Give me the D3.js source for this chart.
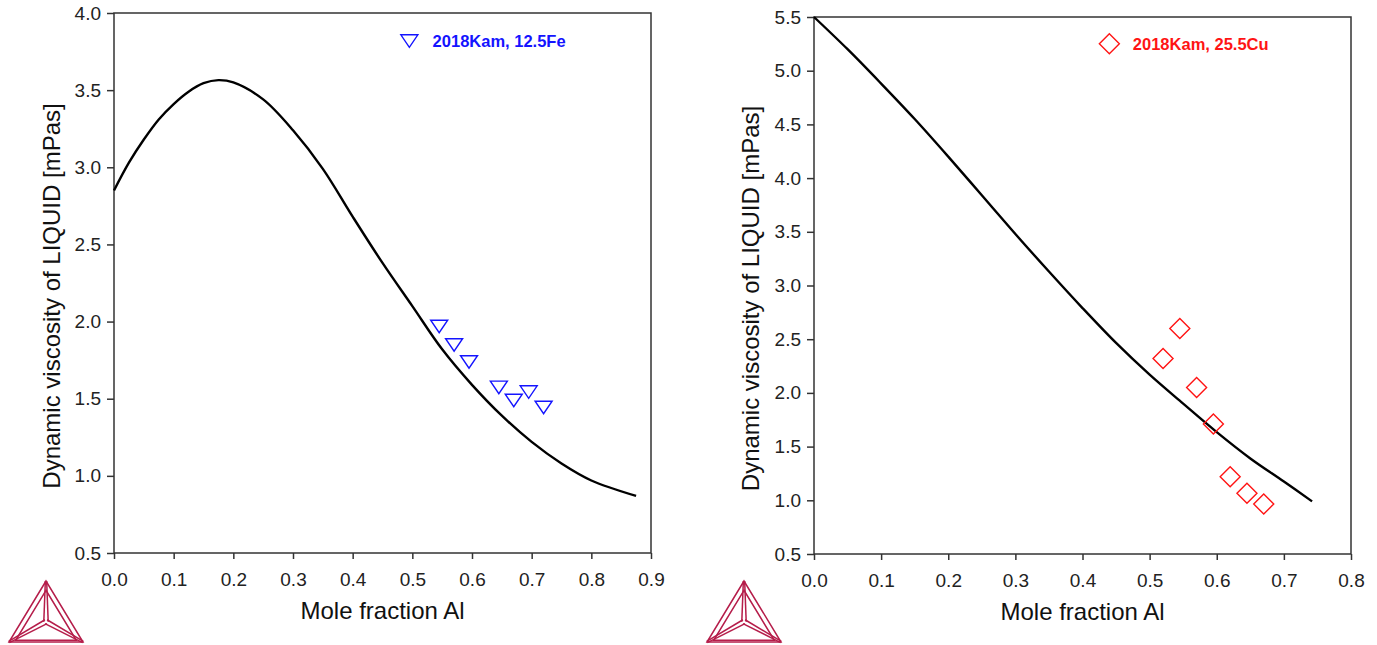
<!DOCTYPE html>
<html>
<head>
<meta charset="utf-8">
<script src="https://cdn.jsdelivr.net/npm/d3@7"></script>
<style>
  html, body { margin: 0; padding: 0; background: #fff; }
  svg { display: block; font-family: "Liberation Sans", Arial, sans-serif; }
  .tick text { fill: #222; }
</style>
</head>
<body>
<svg id="chart" width="1377" height="645"></svg>
<script>
// ---- data ----
// left panel: Al-Fe (12.5Fe section)
const feCalcX = [0, 0.025, 0.05, 0.075, 0.1, 0.125, 0.15, 0.175, 0.2, 0.25, 0.3, 0.35, 0.4, 0.45, 0.5, 0.55, 0.6, 0.65, 0.7, 0.75, 0.8, 0.875];
const feCalcY = [2.85, 3.03, 3.18, 3.31, 3.41, 3.49, 3.545, 3.565, 3.55, 3.44, 3.24, 2.99, 2.68, 2.38, 2.10, 1.82, 1.59, 1.39, 1.22, 1.08, 0.97, 0.87];
const feExpX = [0.545, 0.57, 0.595, 0.645, 0.67, 0.695, 0.72];
const feExpY = [1.97, 1.85, 1.74, 1.575, 1.49, 1.545, 1.445];
const feXTicks = [0, 0.1, 0.2, 0.3, 0.4, 0.5, 0.6, 0.7, 0.8, 0.9];
const feYTicks = [0.5, 1.0, 1.5, 2.0, 2.5, 3.0, 3.5, 4.0];

// right panel: Al-Cu (25.5Cu section)
const cuCalcX = [0, 0.05, 0.1, 0.15, 0.2, 0.25, 0.3, 0.35, 0.4, 0.45, 0.5, 0.55, 0.6, 0.65, 0.7, 0.742];
const cuCalcY = [5.5, 5.20, 4.88, 4.55, 4.20, 3.84, 3.48, 3.13, 2.79, 2.465, 2.17, 1.90, 1.635, 1.39, 1.175, 0.99];
const cuExpX = [0.52, 0.545, 0.57, 0.595, 0.62, 0.645, 0.67];
const cuExpY = [2.32, 2.60, 2.05, 1.71, 1.22, 1.065, 0.965];
const cuXTicks = [0, 0.1, 0.2, 0.3, 0.4, 0.5, 0.6, 0.7, 0.8];
const cuYTicks = [0.5, 1.0, 1.5, 2.0, 2.5, 3.0, 3.5, 4.0, 4.5, 5.0, 5.5];

const xTitle = "Mole fraction Al";
const yTitle = "Dynamic viscosity of LIQUID [mPas]";

const svg = d3.select('#chart');
const fmt = d3.format('.1f');

// marker shapes, centred on the data point
const triDown = 'M-8.5,-6 L8.5,-6 L0,6.5 Z';
const diamond = 'M0,-10 L10,0 L0,10 L-10,0 Z';

function drawPanel(p) {
  const x = d3.scaleLinear().domain(p.xDomain).range([p.left, p.right]);
  const y = d3.scaleLinear().domain(p.yDomain).range([p.bottom, p.top]);
  const g = svg.append('g');

  const xAxis = g.append('g').attr('transform', `translate(0,${p.bottom})`)
    .call(d3.axisBottom(x).tickValues(p.xTicks).tickFormat(fmt).tickSize(6).tickPadding(14));
  const yAxis = g.append('g').attr('transform', `translate(${p.left},0)`)
    .call(d3.axisLeft(y).tickValues(p.yTicks).tickFormat(fmt).tickSize(7).tickPadding(6));
  [xAxis, yAxis].forEach(a => {
    a.select('.domain').remove();
    a.selectAll('line').attr('stroke', '#333').attr('stroke-width', 1.5);
    a.selectAll('text').attr('font-size', 19).attr('font-family', '"Liberation Sans", Arial, sans-serif');
  });

  // frame
  g.append('rect')
    .attr('x', p.left).attr('y', p.top)
    .attr('width', p.right - p.left).attr('height', p.bottom - p.top)
    .attr('fill', 'none').attr('stroke', '#333').attr('stroke-width', 1.5);

  // calculated curve
  const line = d3.line().x(d => x(d[0])).y(d => y(d[1])).curve(d3.curveCatmullRom.alpha(0.5));
  g.append('path')
    .attr('d', line(d3.zip(p.calcX, p.calcY)))
    .attr('fill', 'none').attr('stroke', '#000').attr('stroke-width', 2.4);

  // experimental points
  g.selectAll('path.pt').data(d3.zip(p.expX, p.expY)).join('path')
    .attr('class', 'pt')
    .attr('d', p.marker)
    .attr('transform', d => `translate(${x(d[0])},${y(d[1])})`)
    .attr('fill', 'none').attr('stroke', p.color).attr('stroke-width', 1.4);

  // legend
  g.append('path').attr('d', p.marker)
    .attr('transform', `translate(${x(p.legend[0])},${y(p.legend[1])})`)
    .attr('fill', 'none').attr('stroke', p.color).attr('stroke-width', 1.4);
  g.append('text')
    .attr('x', x(p.legend[2])).attr('y', y(p.legend[1]) + 6)
    .attr('font-size', 16.5).attr('font-weight', 'bold').attr('fill', p.color)
    .text(p.label);

  // axis titles
  g.append('text')
    .attr('x', (p.left + p.right) / 2).attr('y', p.bottom + 66)
    .attr('text-anchor', 'middle').attr('font-size', 24).attr('fill', '#111')
    .text(xTitle);
  g.append('text')
    .attr('transform', `translate(${p.yTitleX},${(p.top + p.bottom) / 2 + 13}) rotate(-90)`)
    .attr('text-anchor', 'middle').attr('font-size', 24).attr('fill', '#111')
    .text(yTitle);

  drawLogo(p.logoX, 581, 74);
}

// Thermo-Calc style triangle mark
function drawLogo(cx, top, w) {
  const h = 61;
  const A = [cx, top], B = [cx - w / 2, top + h], C = [cx + w / 2, top + h];
  const G = [(A[0] + B[0] + C[0]) / 3, (A[1] + B[1] + C[1]) / 3];
  const g = svg.append('g').attr('fill', 'none').attr('stroke', '#b51d4a').attr('stroke-width', 1.5);
  const tri = pts => 'M' + pts.map(q => q.join(',')).join('L') + 'Z';
  g.append('path').attr('d', tri([A, B, C]));
  const s = 0.82;
  const inner = [A, B, C].map(q => [G[0] + (q[0] - G[0]) * s, G[1] + (q[1] - G[1]) * s + 2]);
  g.append('path').attr('d', tri(inner));
  [A, B, C].forEach(V => {
    const dx = V[0] - G[0], dy = V[1] - G[1];
    const len = Math.hypot(dx, dy);
    const nx = -dy / len * 2.2, ny = dx / len * 2.2;
    [-1, 1].forEach(k => {
      g.append('line')
        .attr('x1', G[0] + k * nx).attr('y1', G[1] + k * ny)
        .attr('x2', V[0] + k * nx * 0.3).attr('y2', V[1] + k * ny * 0.3);
    });
  });
}

drawPanel({
  left: 114, right: 651, top: 13, bottom: 553,
  xDomain: [0, 0.9], yDomain: [0.5, 4.0], xTicks: feXTicks, yTicks: feYTicks,
  calcX: feCalcX, calcY: feCalcY, expX: feExpX, expY: feExpY,
  marker: triDown, color: '#1414ff', label: '2018Kam, 12.5Fe',
  legend: [0.495, 3.82, 0.534],
  yTitleX: 60, logoX: 46
});

drawPanel({
  left: 814, right: 1351, top: 17, bottom: 554,
  xDomain: [0, 0.8], yDomain: [0.5, 5.5], xTicks: cuXTicks, yTicks: cuYTicks,
  calcX: cuCalcX, calcY: cuCalcY, expX: cuExpX, expY: cuExpY,
  marker: diamond, color: '#ff1414', label: '2018Kam, 25.5Cu',
  legend: [0.44, 5.25, 0.475],
  yTitleX: 759, logoX: 744
});
</script>
</body>
</html>
